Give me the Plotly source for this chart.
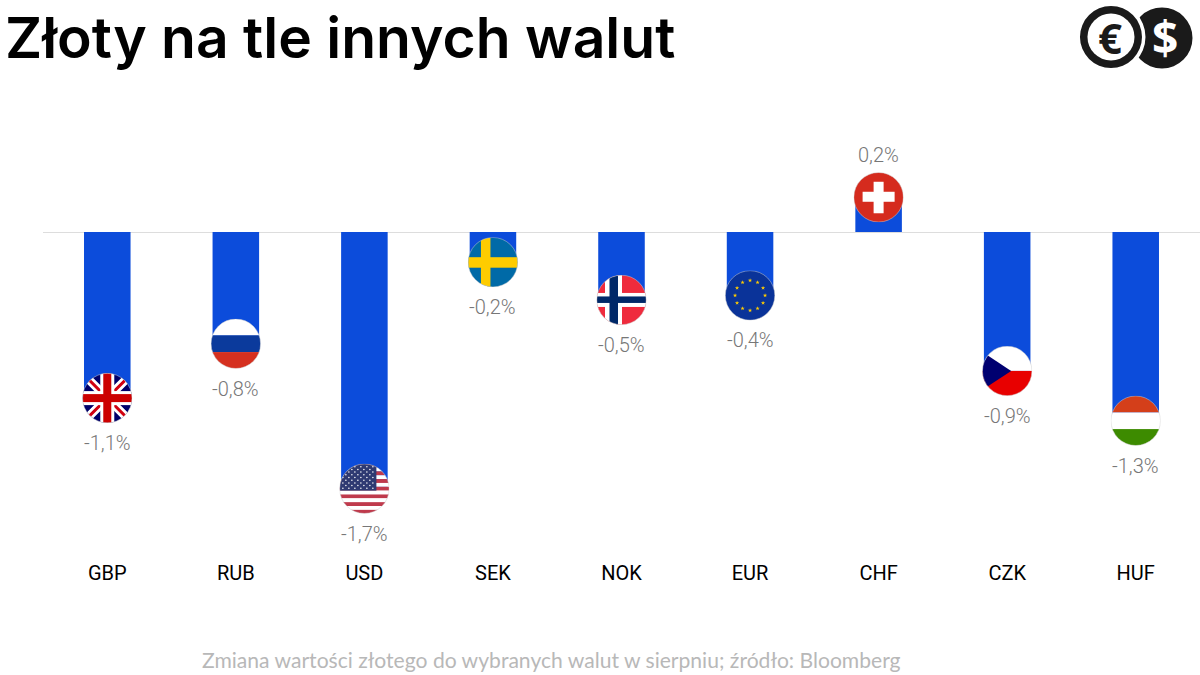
import base64, math
import plotly.graph_objects as go

CURRENCIES = ["GBP", "RUB", "USD", "SEK", "NOK", "EUR", "CHF", "CZK", "HUF"]
VALUES = [-1.10, -0.74, -1.70, -0.20, -0.45, -0.42, 0.23, -0.92, -1.25]
LABELS = ["-1,1%", "-0,8%", "-1,7%", "-0,2%", "-0,5%", "-0,4%", "0,2%", "-0,9%", "-1,3%"]
TITLE = "Złoty na tle innych walut"
CAPTION = "Zmiana wartości złotego do wybranych walut w sierpniu; źródło: Bloomberg"

W, H = 1200, 675
L, R, T, B = 43.25, 0, 100, 120
PW, PH = W - L - R, H - T - B
PX_PER_UNIT = 151.0
Y_TOP = (232 - T) / PX_PER_UNIT
Y_BOT = -(T + PH - 232) / PX_PER_UNIT
FLAG_PX = 50


def star(cx, cy, r):
    pts = []
    for i in range(10):
        a = -math.pi / 2 + i * math.pi / 5
        rr = r if i % 2 == 0 else r * 0.4
        pts.append(f"{cx + rr * math.cos(a):.2f},{cy + rr * math.sin(a):.2f}")
    return f'<polygon points="{" ".join(pts)}" fill="#ffcc00"/>'


def rect(x, y, w, h, c):
    return f'<rect x="{x}" y="{y}" width="{w}" height="{h}" fill="{c}"/>'


def bands(*cols):
    h = 100 / len(cols)
    return "".join(rect(0, i * h, 100, h + 0.2, c) for i, c in enumerate(cols))


def flag_gbp():
    return (rect(0, 0, 100, 100, "#00006a")
            + '<path d="M0 0L100 100M100 0L0 100" stroke="#fff" stroke-width="17"/>'
            + '<path d="M0 0L100 100M100 0L0 100" stroke="#d00010" stroke-width="6"/>'
            + rect(36, 0, 28, 100, "#fff") + rect(0, 36, 100, 28, "#fff")
            + rect(42, 0, 16, 100, "#cc0000") + rect(0, 42, 100, 16, "#cc0000"))


def flag_usd():
    s = ""
    h = 100 / 13
    for i in range(13):
        s += rect(0, i * h, 100, h + 0.1, "#bf3a4c" if i % 2 == 0 else "#fff")
    s += rect(0, 0, 74, 7 * h, "#2f3a72")
    for r_ in range(9):
        n = 6 if r_ % 2 == 0 else 5
        off = 7 if r_ % 2 == 0 else 13
        for c in range(n):
            s += f'<circle cx="{off + c * 12}" cy="{6 + r_ * 5.4}" r="1.5" fill="#fff"/>'
    return s


def flag_eur():
    s = rect(0, 0, 100, 100, "#0a3399")
    for i in range(12):
        a = i * math.pi / 6
        s += star(50 + 30 * math.cos(a), 50 + 30 * math.sin(a), 4.5)
    return s


FLAGS = {
    "GBP": flag_gbp(),
    "RUB": bands("#ffffff", "#0b3a9c", "#d5301f"),
    "USD": flag_usd(),
    "SEK": rect(0, 0, 100, 100, "#006aa7") + rect(26, 0, 19, 100, "#fecc00") + rect(0, 40, 100, 21, "#fecc00"),
    "NOK": rect(0, 0, 100, 100, "#ef2b3d") + rect(17, 0, 34, 100, "#fff") + rect(0, 36, 100, 28, "#fff")
           + rect(26, 0, 17, 100, "#002868") + rect(0, 43, 100, 13, "#002868"),
    "EUR": flag_eur(),
    "CHF": rect(0, 0, 100, 100, "#d52b1e") + rect(40, 19, 20, 63, "#fff") + rect(18, 39, 64, 20, "#fff"),
    "CZK": rect(0, 0, 100, 50, "#fff") + rect(0, 50, 100, 50, "#e80000")
           + '<polygon points="58,50 0,11.6 0,88.4" fill="#000070"/>',
    "HUF": bands("#d43f1a", "#ffffff", "#3d8b00"),
}


def svg_uri(body):
    svg = ('<svg xmlns="http://www.w3.org/2000/svg" width="200" height="200" viewBox="0 0 100 100">'
           '<defs><clipPath id="c"><circle cx="50" cy="50" r="49.5"/></clipPath></defs>'
           f'<g clip-path="url(#c)">{body}</g>'
           '<circle cx="50" cy="50" r="49.5" fill="none" stroke="#cfcfcf" stroke-width="1"/></svg>')
    return "data:image/svg+xml;base64," + base64.b64encode(svg.encode()).decode()


def px(x):
    return (x - L) / PW


def py(y):
    return 1 - (y - T) / PH


fig = go.Figure(go.Bar(x=CURRENCIES, y=VALUES, marker=dict(color="#0c4cdb", line_width=0),
                       hoverinfo="skip"))

images = []
annotations = []
for c, v, lab in zip(CURRENCIES, VALUES, LABELS):
    images.append(dict(source=svg_uri(FLAGS[c]), xref="x", yref="y", x=c, y=v,
                       sizex=FLAG_PX / (PW / 9), sizey=FLAG_PX / PX_PER_UNIT,
                       xanchor="center", yanchor="middle", sizing="stretch", layer="above"))
    annotations.append(dict(x=c, y=v, xref="x", yref="y", text=lab, showarrow=False,
                            yshift=42 if v > 0 else -45, yanchor="middle",
                            font=dict(family="Roboto", size=20, weight=300, color="#777777")))

annotations.append(dict(x=px(3), y=py(37), xref="paper", yref="paper", xanchor="left", yanchor="middle",
                        text=TITLE, showarrow=False,
                        font=dict(family="Inter", size=57, weight=600, color="#000000")))
annotations.append(dict(x=px(552), y=py(659), xref="paper", yref="paper", xanchor="center", yanchor="middle",
                        text=CAPTION, showarrow=False,
                        font=dict(family="Lato", size=21.1, color="#b8b8b8")))
annotations.append(dict(x=px(1110), y=py(37), xref="paper", yref="paper", xanchor="center", yanchor="middle",
                        text="<b>€</b>", showarrow=False,
                        font=dict(family="Open Sans", size=42, color="#1a1a1a")))
annotations.append(dict(x=px(1165), y=py(37), xref="paper", yref="paper", xanchor="center", yanchor="middle",
                        text="<b>$</b>", showarrow=False,
                        font=dict(family="Open Sans", size=46, color="#ffffff")))


def circle(cx, cy, r, col):
    return dict(type="circle", xref="paper", yref="paper", x0=px(cx - r), x1=px(cx + r),
                y0=py(cy + r), y1=py(cy - r), fillcolor=col, line_width=0, layer="above")


shapes = [circle(1162, 38, 30.5, "#1a1a1a"), circle(1111, 37, 34.5, "#ffffff"),
          circle(1111, 37, 31, "#1a1a1a"), circle(1111, 37, 23.5, "#ffffff")]

fig.update_layout(
    width=W, height=H, margin=dict(l=L, r=R, t=T, b=B), paper_bgcolor="#ffffff", plot_bgcolor="#ffffff",
    showlegend=False, bargap=0.638, images=images, annotations=annotations, shapes=shapes,
    xaxis=dict(type="category", categoryorder="array", categoryarray=CURRENCIES, range=[-0.5, 8.5],
               showgrid=False, showline=False, ticks="", zeroline=False, ticklabelstandoff=4,
               tickfont=dict(family="Roboto", size=20, color="#000000")),
    yaxis=dict(range=[Y_BOT, Y_TOP], showgrid=False, showticklabels=False, ticks="", showline=False,
               zeroline=True, zerolinecolor="#dddddd", zerolinewidth=1),
)
fig.write_html("out.html", config=dict(displayModeBar=False),
               post_script="document.body.style.margin='0';")
